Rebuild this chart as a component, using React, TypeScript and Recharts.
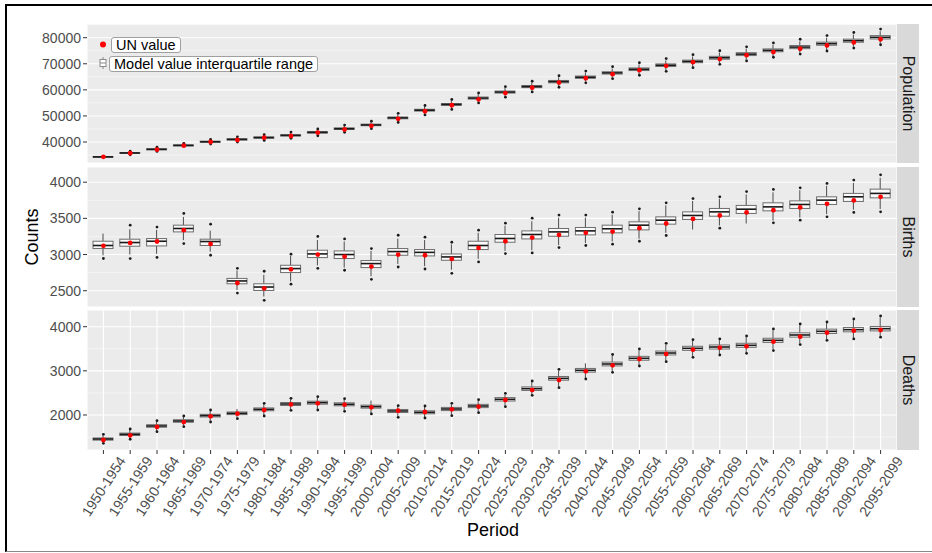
import React from 'react';
import { ComposedChart, Bar, Scatter, XAxis, YAxis, CartesianGrid } from 'recharts';

const periods = [
  '1950-1954', '1955-1959', '1960-1964', '1965-1969', '1970-1974', '1975-1979',
  '1980-1984', '1985-1989', '1990-1994', '1995-1999', '2000-2004', '2005-2009',
  '2010-2014', '2015-2019', '2020-2024', '2025-2029', '2030-2034', '2035-2039',
  '2040-2044', '2045-2049', '2050-2054', '2055-2059', '2060-2064', '2065-2069',
  '2070-2074', '2075-2079', '2080-2084', '2085-2089', '2090-2094', '2095-2099',
];

// ---------- Population ----------
const popMedian = [34300, 35800, 37200, 38700, 40100, 41000, 41700, 42550, 43700, 45100, 46550, 49250, 52200, 54400, 56850, 59150, 61250, 63150, 64850, 66500, 67900, 69450, 70900, 72300, 73700, 75150, 76400, 77700, 78850, 80150];
const popQ1 = [34150, 35650, 37000, 38500, 39900, 40750, 41450, 42300, 43400, 44800, 46250, 48900, 51850, 54050, 56450, 58750, 60850, 62700, 64400, 66050, 67400, 68950, 70400, 71750, 73150, 74600, 75800, 77100, 78250, 79500];
const popQ3 = [34450, 35950, 37400, 38900, 40300, 41250, 41950, 42800, 44000, 45400, 46850, 49600, 52550, 54750, 57250, 59550, 61650, 63600, 65300, 66950, 68400, 69950, 71400, 72850, 74250, 75700, 77000, 78300, 79450, 80800];
const popWhiskerLow = [33900, 35300, 36600, 38100, 39400, 40200, 40800, 41600, 42700, 44000, 45400, 47800, 50800, 52900, 55400, 57700, 59700, 61500, 63200, 64800, 66100, 67600, 69000, 70300, 71600, 73000, 74200, 75400, 76500, 77800];
const popWhiskerHigh = [34700, 36300, 37800, 39300, 40800, 41800, 42500, 43500, 44700, 46200, 47700, 50600, 53600, 55900, 58300, 60700, 62800, 64800, 66600, 68200, 69700, 71300, 72800, 74300, 75800, 77300, 78600, 80000, 81200, 82500];
const popOutLow = [null, 35100, 36400, null, 39200, 40000, 40600, 41400, 42400, 43700, 45100, 47500, 50400, 52500, 55000, 57200, 59200, 61000, 62700, 64300, 65600, 67100, 68500, 69800, 71100, 72500, 73700, 74900, 76000, 77300];
const popOutHigh = [null, 36500, 38000, 39500, 41000, 42000, 42800, 43800, 45000, 46500, 48000, 51000, 54000, 56300, 58800, 61200, 63300, 65400, 67200, 68900, 70400, 72000, 73500, 75000, 76500, 78000, 79400, 80800, 82000, 83300];
const popUN = [34300, 35700, 37100, 38600, 40000, 40800, 41650, 42300, 43600, 44800, 46200, 48900, 51800, 54100, 56350, 58750, 60850, 62800, 64450, 66000, 67550, 69200, 70600, 71800, 73300, 74500, 75750, 77050, 78200, 79400];

// ---------- Births ----------
const birthMedian = [3125, 3166, 3184, 3360, 3180, 2635, 2551, 2806, 3009, 3000, 2875, 3041, 3030, 2967, 3125, 3222, 3277, 3313, 3327, 3356, 3406, 3475, 3540, 3590, 3627, 3659, 3692, 3752, 3798, 3845];
const birthQ1 = [3083, 3115, 3119, 3313, 3125, 2596, 2503, 2751, 2958, 2945, 2820, 2990, 2981, 2921, 3069, 3170, 3216, 3253, 3272, 3300, 3341, 3420, 3485, 3530, 3568, 3604, 3637, 3692, 3734, 3784];
const birthQ3 = [3184, 3212, 3221, 3406, 3212, 2670, 2596, 2852, 3060, 3050, 2917, 3083, 3069, 3008, 3184, 3277, 3327, 3360, 3374, 3406, 3452, 3521, 3590, 3637, 3679, 3715, 3742, 3798, 3845, 3904];
const birthWhiskerLow = [2990, 3000, 3010, 3200, 3040, 2510, 2420, 2630, 2850, 2820, 2700, 2870, 2840, 2790, 2940, 3050, 3060, 3130, 3160, 3180, 3220, 3300, 3346, 3400, 3429, 3470, 3510, 3560, 3620, 3630];
const birthWhiskerHigh = [3290, 3350, 3340, 3520, 3330, 2780, 2720, 2980, 3200, 3180, 3050, 3220, 3200, 3140, 3300, 3400, 3460, 3510, 3510, 3550, 3600, 3680, 3740, 3770, 3830, 3860, 3890, 3950, 3990, 4060];
const birthOutLow = [2945, 2944, 2960, 3152, 2990, 2468, 2367, 2590, 2810, 2783, 2658, 2828, 2800, 2740, 2898, 3014, 3023, 3097, 3125, 3143, 3184, 3263, null, 3364, null, 3438, 3475, 3521, 3582, 3590];
const birthOutHigh = [null, 3406, 3380, 3568, 3420, 2810, 2769, 3005, 3250, 3216, 3083, 3267, 3240, 3170, 3337, 3433, 3502, 3545, 3545, 3586, 3632, 3715, 3773, 3798, 3870, 3900, 3922, 3983, 4029, 4102];
const birthUN = [3120, 3160, 3180, 3337, 3147, 2607, 2533, 2796, 3000, 2972, 2834, 3000, 2990, 2940, 3092, 3184, 3235, 3272, 3300, 3318, 3364, 3429, 3493, 3540, 3582, 3613, 3651, 3701, 3748, 3798];

// ---------- Deaths ----------
const deathMedian = [1456, 1563, 1751, 1864, 1985, 2038, 2128, 2249, 2279, 2242, 2189, 2091, 2061, 2136, 2204, 2355, 2596, 2830, 3012, 3155, 3284, 3404, 3510, 3540, 3578, 3691, 3812, 3895, 3933, 3955];
const deathQ1 = [1430, 1535, 1722, 1835, 1955, 2008, 2096, 2215, 2245, 2208, 2155, 2057, 2027, 2100, 2167, 2316, 2556, 2788, 2970, 3112, 3240, 3360, 3464, 3494, 3532, 3644, 3764, 3846, 3884, 3905];
const deathQ3 = [1480, 1590, 1780, 1893, 2015, 2068, 2160, 2283, 2313, 2276, 2223, 2125, 2095, 2172, 2241, 2394, 2636, 2872, 3054, 3198, 3328, 3448, 3556, 3586, 3624, 3738, 3860, 3944, 3982, 4005];
const deathWhiskerLow = [1380, 1470, 1645, 1760, 1865, 1940, 2000, 2130, 2140, 2105, 2045, 1970, 1955, 2010, 2075, 2210, 2470, 2645, 2840, 2990, 3135, 3230, 3330, 3385, 3420, 3485, 3620, 3715, 3745, 3790];
const deathWhiskerHigh = [1540, 1660, 1850, 1955, 2090, 2136, 2245, 2355, 2390, 2350, 2325, 2190, 2180, 2240, 2320, 2465, 2745, 3005, 3171, 3340, 3465, 3595, 3680, 3695, 3760, 3915, 4030, 4080, 4145, 4210];
const deathOutLow = [1359, 1450, 1622, 1735, 1841, 1916, 1977, 2106, 2113, 2083, 2023, 1947, 1932, 1985, 2053, 2189, 2445, 2619, 2815, 2966, 3110, 3208, 3306, 3359, 3397, 3459, 3595, 3691, 3722, 3763];
const deathOutHigh = [1563, 1683, 1871, 1977, 2113, null, 2265, 2378, 2415, 2370, null, 2211, 2204, 2264, 2347, 2491, 2770, 3035, null, 3370, 3495, 3624, 3706, 3722, 3789, 3948, 4061, 4106, 4174, 4242];
const deathUN = [1434, 1540, 1730, 1840, 1970, 2030, 2113, 2240, 2264, 2234, 2174, 2098, 2068, 2128, 2189, 2340, 2566, 2793, 2989, 3125, 3268, 3381, 3480, 3525, 3555, 3661, 3774, 3865, 3910, 3925];

// ---------- Axis ticks ----------
const popTicks = [40000, 50000, 60000, 70000, 80000];
const popMinorTicks = [35000, 45000, 55000, 65000, 75000, 85000];
const birthTicks = [2500, 3000, 3500, 4000];
const birthMinorTicks = [2750, 3250, 3750];
const deathTicks = [2000, 3000, 4000];
const deathMinorTicks = [1500, 2500, 3500];

const facetNames = ['Population', 'Births', 'Deaths'];

const FONT = "'Liberation Sans', Arial, Helvetica, sans-serif";

function buildRows(
  med: number[], q1: number[], q3: number[], wlo: number[], whi: number[],
  olo: (number | null)[], ohi: (number | null)[], un: number[],
) {
  return periods.map((period, i) => ({
    period,
    whisk: [wlo[i], whi[i]],
    q1: q1[i],
    q3: q3[i],
    med: med[i],
    outLow: olo[i],
    outHigh: ohi[i],
    un: un[i],
  }));
}

const popRows = buildRows(popMedian, popQ1, popQ3, popWhiskerLow, popWhiskerHigh, popOutLow, popOutHigh, popUN);
const birthRows = buildRows(birthMedian, birthQ1, birthQ3, birthWhiskerLow, birthWhiskerHigh, birthOutLow, birthOutHigh, birthUN);
const deathRows = buildRows(deathMedian, deathQ1, deathQ3, deathWhiskerLow, deathWhiskerHigh, deathOutLow, deathOutHigh, deathUN);

// Box + whiskers drawn inside the bar whose range is [whisker low, whisker high]
const BoxShape = (props: any) => {
  const { x, y, width, height, payload } = props;
  if (x == null || y == null || !payload || !payload.whisk) return null;
  const [lo, hi] = payload.whisk;
  const top = Math.min(y, y + height);
  const bot = Math.max(y, y + height);
  const span = hi - lo;
  const py = (v: number) => top + ((bot - top) * (hi - v)) / span;
  const cx = x + width / 2;
  const yq3 = py(payload.q3);
  const yq1 = py(payload.q1);
  const ym = py(payload.med);
  return (
    <g>
      <line x1={cx} x2={cx} y1={top} y2={yq3} stroke="#4d4d4d" strokeWidth={1} />
      <line x1={cx} x2={cx} y1={yq1} y2={bot} stroke="#4d4d4d" strokeWidth={1} />
      <rect x={x} y={yq3} width={width} height={Math.max(yq1 - yq3, 0.2)} fill="#fafafa" stroke="#6e6e6e" strokeWidth={1} />
      <line x1={x} x2={x + width} y1={ym} y2={ym} stroke="#1a1a1a" strokeWidth={1.6} />
    </g>
  );
};

const makeDot = (key: string, r: number, color: string) => (props: any) => {
  const { cx, cy, payload } = props;
  if (!payload || payload[key] == null || cx == null || cy == null || Number.isNaN(cy)) return <g />;
  return <circle cx={cx} cy={cy} r={r} fill={color} />;
};

const outLowDot = makeDot('outLow', 1.4, '#1a1a1a');
const outHighDot = makeDot('outHigh', 1.4, '#1a1a1a');
const unDot = makeDot('un', 2.4, '#ff0000');

const XTick = (props: any) => {
  const { x, y, payload } = props;
  return (
    <text
      transform={`translate(${x + 23},${y + 4.5}) rotate(-57)`}
      textAnchor="end"
      fontSize={14.2}
      fill="#4d4d4d"
    >
      {payload.value}
    </text>
  );
};

type PanelProps = {
  rows: any[];
  domain: [number, number];
  ticks: number[];
  minor: number[];
  top: number;
  plotHeight: number;
  showX: boolean;
};

function Panel({ rows, domain, ticks, minor, top, plotHeight, showX }: PanelProps) {
  const axisH = showX ? 90 : 0;
  return (
    <div style={{ position: 'absolute', left: 0, top }}>
      <ComposedChart
        width={932}
        height={plotHeight + axisH}
        data={rows}
        margin={{ top: 0, right: 35, bottom: 0, left: 0 }}
      >
        <CartesianGrid fill="#ebebeb" stroke="#ffffff" strokeWidth={1.1} />
        <CartesianGrid stroke="#ffffff" strokeOpacity={0.75} strokeWidth={0.6} vertical={false} horizontalValues={minor} />
        <XAxis
          dataKey="period"
          type="category"
          interval={0}
          padding={{ left: 3, right: 3 }}
          height={axisH}
          axisLine={false}
          tickSize={4}
          tickLine={showX ? { stroke: '#333333' } : false}
          tick={showX ? <XTick /> : false}
        />
        <YAxis
          type="number"
          domain={domain}
          ticks={ticks}
          allowDataOverflow
          interval={0}
          width={87}
          axisLine={false}
          tickSize={4}
          tickLine={{ stroke: '#333333' }}
          tick={{ fill: '#4d4d4d', fontSize: 14 }}
        />
        <Bar dataKey="whisk" barSize={20} shape={(p: any) => <BoxShape {...p} />} isAnimationActive={false} />
        <Scatter dataKey="outLow" shape={outLowDot} isAnimationActive={false} />
        <Scatter dataKey="outHigh" shape={outHighDot} isAnimationActive={false} />
        <Scatter dataKey="un" shape={unDot} isAnimationActive={false} />
      </ComposedChart>
    </div>
  );
}

const strips = [
  { name: facetNames[0], top: 24, height: 139 },
  { name: facetNames[1], top: 167, height: 140 },
  { name: facetNames[2], top: 310, height: 140 },
];

export default function App() {
  return (
    <div
      style={{
        position: 'absolute',
        left: 0,
        top: 0,
        width: 932,
        height: 553,
        overflow: 'hidden',
        background: '#ffffff',
        fontFamily: FONT,
      }}
    >
      <div
        style={{
          position: 'absolute',
          left: 5,
          top: 4,
          width: 960,
          height: 545,
          borderTop: '2px solid #000',
          borderLeft: '2px solid #000',
          borderBottom: '1px solid #888',
        }}
      />
      <Panel rows={popRows} domain={[31950, 85250]} ticks={popTicks} minor={popMinorTicks} top={24} plotHeight={139} showX={false} />
      <Panel rows={birthRows} domain={[2275, 4210]} ticks={birthTicks} minor={birthMinorTicks} top={167} plotHeight={140} showX={false} />
      <Panel rows={deathRows} domain={[1207, 4378]} ticks={deathTicks} minor={deathMinorTicks} top={310} plotHeight={140} showX={true} />

      <svg width={932} height={553} style={{ position: 'absolute', left: 0, top: 0, pointerEvents: 'none' }}>
        {strips.map((s) => (
          <g key={s.name}>
            <rect x={897} y={s.top} width={22} height={s.height} fill="#d9d9d9" />
            <text
              transform={`translate(908,${s.top + s.height / 2}) rotate(90)`}
              textAnchor="middle"
              dominantBaseline="central"
              fontSize={16}
              fill="#1a1a1a"
            >
              {s.name}
            </text>
          </g>
        ))}
        <text transform="translate(38,237) rotate(-90)" textAnchor="middle" fontSize={18} fill="#000">
          Counts
        </text>
        <text x={493} y={536} textAnchor="middle" fontSize={18} fill="#000">
          Period
        </text>
        {/* legend keys */}
        <circle cx={103} cy={44.5} r={3} fill="#ff0000" />
        <g stroke="#8a8a8a" strokeWidth={1} fill="#ffffff">
          <line x1={103} x2={103} y1={57} y2={69} />
          <rect x={100} y={59.5} width={6} height={7} />
          <line x1={100} x2={106} y1={63} y2={63} />
        </g>
      </svg>
      <div
        style={{
          position: 'absolute',
          left: 111,
          top: 37,
          height: 14,
          lineHeight: '14px',
          padding: '0 4px',
          fontSize: 14.5,
          color: '#000',
          background: '#fff',
          border: '1px solid #a0a0a0',
          borderRadius: 3,
          whiteSpace: 'nowrap',
        }}
      >
        UN value
      </div>
      <div
        style={{
          position: 'absolute',
          left: 109,
          top: 56,
          height: 14,
          lineHeight: '14px',
          padding: '0 4px',
          fontSize: 14.5,
          color: '#000',
          background: '#fff',
          border: '1px solid #a0a0a0',
          borderRadius: 3,
          whiteSpace: 'nowrap',
        }}
      >
        Model value interquartile range
      </div>
    </div>
  );
}
